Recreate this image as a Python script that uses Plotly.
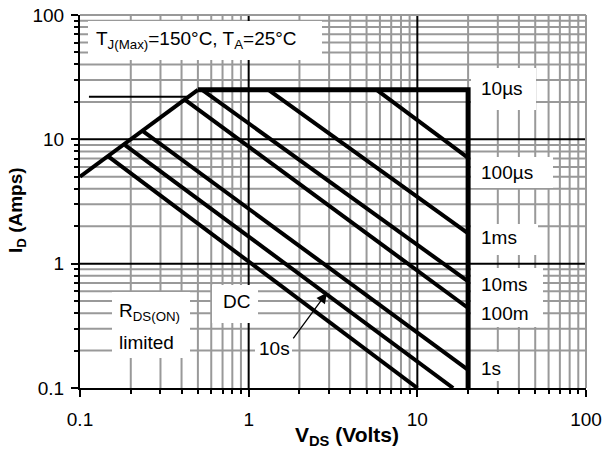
import math
import plotly.graph_objects as go

# ---------------- data ----------------
x_ticks = [0.1, 1, 10, 100]
x_tick_text = ["0.1", "1", "10", "100"]
y_ticks = [0.1, 1, 10, 100]
y_tick_text = ["0.1", "1", "10", "100"]

rds_v = [0.1, 0.5]
rds_i = [5.0, 25.0]
limit_v = [0.5, 20, 20]          # 10us boundary (current and voltage limit)
limit_i = [25, 25, 0.1]
thin_v = [0.113, 0.43]
thin_i = [22, 22]
us100_v = [5.74, 20]
us100_i = [25, 7.1]
ms1_v = [1.31, 20]
ms1_i = [25, 1.75]
ms10_v = [0.53, 20]
ms10_i = [25, 0.72]
ms100_v = [0.42, 20]
ms100_i = [20.8, 0.44]
s1_v = [0.237, 20]
s1_i = [11.6, 0.14]
s10_v = [0.185, 16.3]
s10_i = [9.0, 0.1]
dc_v = [0.147, 10.0]
dc_i = [7.3, 0.1]

arrow_head = (2.91, 0.583)
arrow_tail = (1.81, 0.244)

# ---------------- layout helpers ----------------
W, H = 603, 454
L, R, T, B = 80, 17, 15, 66
PW, PH = W - L - R, H - T - B


def PX(px):
    return (px - L) / PW


def PY(py):
    return (H - B - py) / PH


FONT = "Liberation Sans, Arial, sans-serif"
GRAY = "#999999"

fig = go.Figure()

thick = dict(color="black", width=4)
for v, i, ln in [
    (rds_v, rds_i, thick),
    (thin_v, thin_i, dict(color="black", width=2)),
    (limit_v, limit_i, dict(color="black", width=5)),
    (us100_v, us100_i, thick),
    (ms1_v, ms1_i, thick),
    (ms10_v, ms10_i, thick),
    (ms100_v, ms100_i, thick),
    (s1_v, s1_i, thick),
    (s10_v, s10_i, thick),
    (dc_v, dc_i, thick),
]:
    fig.add_trace(go.Scatter(x=v, y=i, mode="lines", line=ln,
                             showlegend=False, hoverinfo="skip"))

shapes = []
decades = [0.1, 1, 10]
minor_vals = [d * k for d in decades for k in range(2, 10)]


def lp(v):
    return (math.log10(v) + 1) / 3


# gray minor grid
for v in minor_vals:
    p = lp(v)
    shapes.append(dict(type="line", xref="paper", yref="paper", x0=p, x1=p, y0=0, y1=1,
                       line=dict(color=GRAY, width=2), layer="below"))
    shapes.append(dict(type="line", xref="paper", yref="paper", y0=p, y1=p, x0=0, x1=1,
                       line=dict(color=GRAY, width=2), layer="below"))
# black decade grid
for v in [1, 10]:
    p = lp(v)
    shapes.append(dict(type="line", xref="paper", yref="paper", x0=p, x1=p, y0=0, y1=1,
                       line=dict(color="black", width=2), layer="below"))
    shapes.append(dict(type="line", xref="paper", yref="paper", y0=p, y1=p, x0=0, x1=1,
                       line=dict(color="black", width=2), layer="below"))
# top / right frame
shapes.append(dict(type="line", xref="paper", yref="paper", x0=0, x1=1, y0=1, y1=1,
                   line=dict(color=GRAY, width=2), layer="below"))
shapes.append(dict(type="line", xref="paper", yref="paper", x0=1, x1=1, y0=0, y1=1,
                   line=dict(color=GRAY, width=2), layer="below"))

# white boxes behind labels (pixel boxes)
boxes = [
    (88, 322, 21, 60),    # T label
    (471, 536, 68, 110),  # 10us
    (471, 553, 157, 188), # 100us
    (471, 538, 224, 255), # 1ms
    (471, 543, 268, 327), # 10ms / 100m
    (471, 500, 352, 381), # 1s
    (112, 190, 292, 358), # Rds
    (212, 258, 285, 323), # DC
    (255, 292, 333, 362), # 10s
]
for x0, x1, y0, y1 in boxes:
    shapes.append(dict(type="rect", xref="paper", yref="paper",
                       x0=PX(x0), x1=PX(x1), y0=PY(y1), y1=PY(y0),
                       fillcolor="white", line=dict(width=0), layer="below"))

annotations = []


def label(text, px, py, size=19, xanchor="left", angle=0):
    annotations.append(dict(text=text, xref="paper", yref="paper", x=PX(px), y=PY(py),
                            xanchor=xanchor, yanchor="middle", showarrow=False,
                            textangle=angle,
                            font=dict(family=FONT, size=size, color="black")))


label("T<sub>J(Max)</sub>=150°C, T<sub>A</sub>=25°C", 94, 40)
label("10µs", 479, 88)
label("100µs", 479, 173)
label("1ms", 479, 238)
label("10ms", 479, 284)
label("100m", 479, 313)
label("1s", 479, 368)
label("R<sub>DS(ON)</sub>", 117, 312)
label("limited", 117, 342)
label("DC", 221, 301)
label("10s", 257, 348)
label("<b>V<sub>DS</sub> (Volts)</b>", 347, 436, size=21, xanchor="center")
label("<b>I<sub>D</sub> (Amps)</b>", 17, 210, size=19, xanchor="center", angle=-90)

annotations.append(dict(
    x=math.log10(arrow_head[0]), y=math.log10(arrow_head[1]), xref="x", yref="y",
    ax=math.log10(arrow_tail[0]), ay=math.log10(arrow_tail[1]), axref="x", ayref="y",
    text="", showarrow=True, arrowhead=2, arrowsize=1.6, arrowwidth=1.3,
    arrowcolor="black"))

axis_common = dict(
    type="log", range=[-1, 2], showgrid=False, zeroline=False, automargin=False,
    showline=True, linecolor="black", linewidth=2,
    ticks="outside", ticklen=7, tickwidth=1.5, tickcolor="black",
    tickfont=dict(family=FONT, size=19, color="black"),
    minor=dict(tickvals=minor_vals, ticks="outside", ticklen=4, tickwidth=1.5,
               tickcolor="black", showgrid=False),
)

fig.update_layout(
    width=W, height=H,
    margin=dict(l=L, r=R, t=T, b=B, autoexpand=False),
    paper_bgcolor="white", plot_bgcolor="white",
    shapes=shapes, annotations=annotations,
    xaxis=dict(axis_common, tickvals=x_ticks, ticktext=x_tick_text, ticklabelstandoff=6),
    yaxis=dict(axis_common, tickvals=y_ticks, ticktext=y_tick_text, ticklabelstandoff=3),
    font=dict(family=FONT),
)

fig.write_html("out.html", config={"displayModeBar": False},
               post_script="document.body.style.margin='0px';document.body.style.padding='0px';")
